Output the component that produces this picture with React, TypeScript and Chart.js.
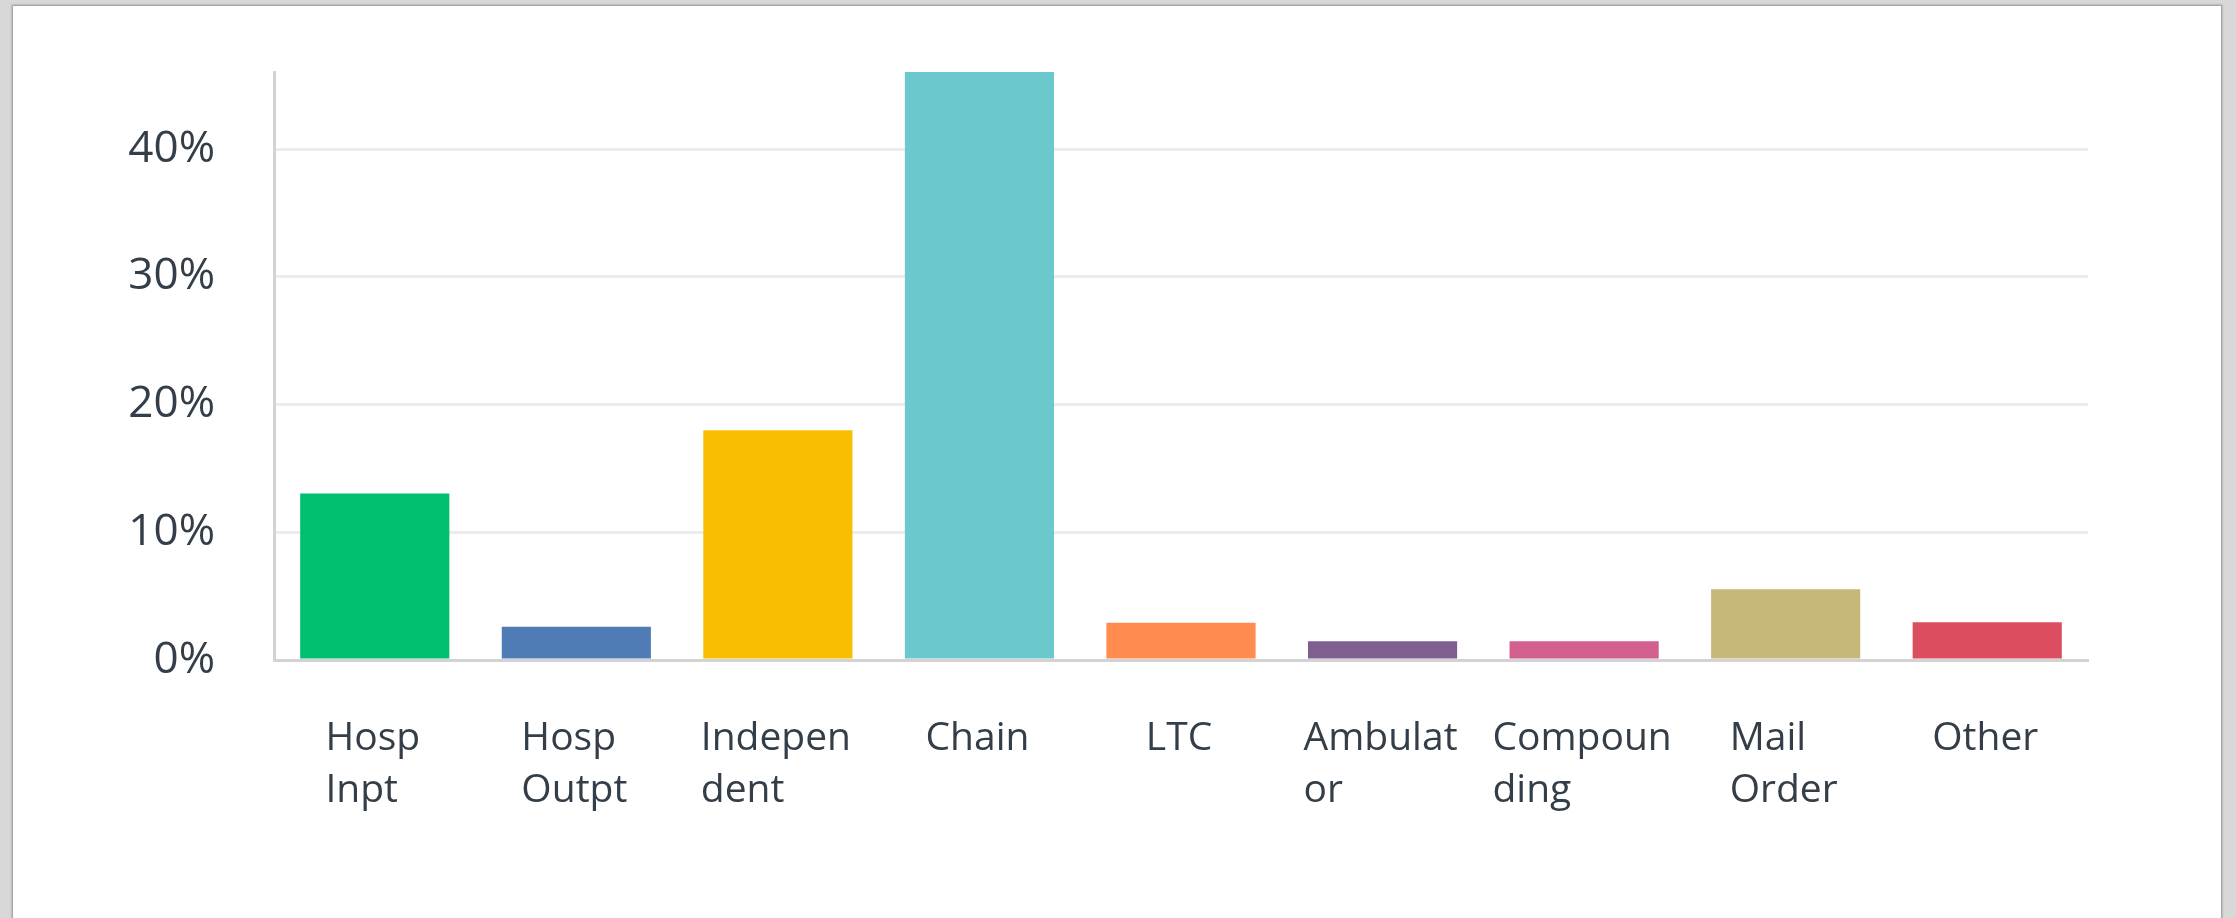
import React, { useEffect, useRef } from "react";
import { Chart, registerables } from "chart.js";

Chart.register(...registerables);

const categories = [
  "Hosp Inpt",
  "Hosp Outpt",
  "Independent",
  "Chain",
  "LTC",
  "Ambulator",
  "Compounding",
  "Mail Order",
  "Other",
];

const xTickLines = [
  ["Hosp", "Inpt"],
  ["Hosp", "Outpt"],
  ["Indepen", "dent"],
  ["Chain"],
  ["LTC"],
  ["Ambulat", "or"],
  ["Compoun", "ding"],
  ["Mail", "Order"],
  ["Other"],
];

const values = [13.04, 2.61, 18.0, 46.05, 2.92, 1.47, 1.47, 5.54, 2.95];

const barColors = [
  "#00bf6f",
  "#507cb6",
  "#f9be00",
  "#6bc8cd",
  "#ff8b4f",
  "#7f5e90",
  "#d25f90",
  "#c7b879",
  "#dc4e5f",
];

const yTicks = [0, 10, 20, 30, 40];
const yMax = 46.05;

const TEXT_COLOR = "#333e48";

const xLabelPlugin = {
  id: "xLabelsLeftBlock",
  afterDraw(chart: any) {
    const { ctx, chartArea } = chart;
    const xs = chart.scales.x;
    ctx.save();
    ctx.font = '39px "Open Sans"';
    ctx.fillStyle = TEXT_COLOR;
    ctx.textAlign = "left";
    ctx.textBaseline = "alphabetic";
    xTickLines.forEach((lines, i) => {
      const w = Math.max(...lines.map((l) => ctx.measureText(l).width));
      const x0 = xs.getPixelForTick(i) - w / 2 - 2;
      lines.forEach((l, j) => {
        ctx.fillText(l, x0, chartArea.bottom + 90 + j * 52);
      });
    });
    ctx.restore();
  },
};

export default function App() {
  const canvasRef = useRef<HTMLCanvasElement | null>(null);

  useEffect(() => {
    if (!canvasRef.current) return;
    const chart = new Chart(canvasRef.current, {
      type: "bar",
      data: {
        labels: categories,
        datasets: [
          {
            data: values,
            backgroundColor: barColors,
            borderWidth: 0,
            categoryPercentage: 1,
            barPercentage: 0.74,
          },
        ],
      },
      options: {
        animation: false,
        responsive: false,
        maintainAspectRatio: false,
        devicePixelRatio: 1,
        layout: { padding: { left: 0, top: 72, right: 148, bottom: 0 } },
        plugins: {
          legend: { display: false },
          tooltip: { enabled: false },
        },
        scales: {
          x: {
            grid: { display: false, drawTicks: false },
            border: { display: true, color: "#d3d3d3", width: 3 },
            ticks: { display: false, autoSkip: false, maxRotation: 0 },
            afterFit: (scale: any) => {
              scale.height = 258;
              scale.paddingLeft = 0;
              scale.paddingRight = 0;
            },
          },
          y: {
            min: 0,
            max: yMax,
            grid: { color: "#ececec", lineWidth: 3, drawTicks: false },
            border: { display: true, color: "#d3d3d3", width: 3 },
            afterBuildTicks: (scale: any) => {
              scale.ticks = yTicks.map((v) => ({ value: v }));
            },
            ticks: {
              padding: 59,
              color: TEXT_COLOR,
              font: { family: '"Open Sans"', size: 44 },
              callback: (v: any) => v + "%",
            },
            afterFit: (scale: any) => {
              scale.width = 274;
              scale.paddingTop = 0;
              scale.paddingBottom = 0;
            },
          },
        },
      },
      plugins: [xLabelPlugin],
    });
    return () => chart.destroy();
  }, []);

  return (
    <div
      style={{
        position: "fixed",
        left: 0,
        top: 0,
        width: 2236,
        height: 918,
        background: "#d8d8d8",
        overflow: "hidden",
      }}
    >
      <div
        style={{
          position: "absolute",
          left: 13,
          top: 6,
          width: 2208,
          height: 1000,
          background: "#ffffff",
          boxShadow: "0 0 2px 1px rgba(0,0,0,0.35)",
        }}
      />
      <canvas
        ref={canvasRef}
        width={2236}
        height={918}
        style={{ position: "absolute", left: 0, top: 0, width: 2236, height: 918 }}
      />
    </div>
  );
}
